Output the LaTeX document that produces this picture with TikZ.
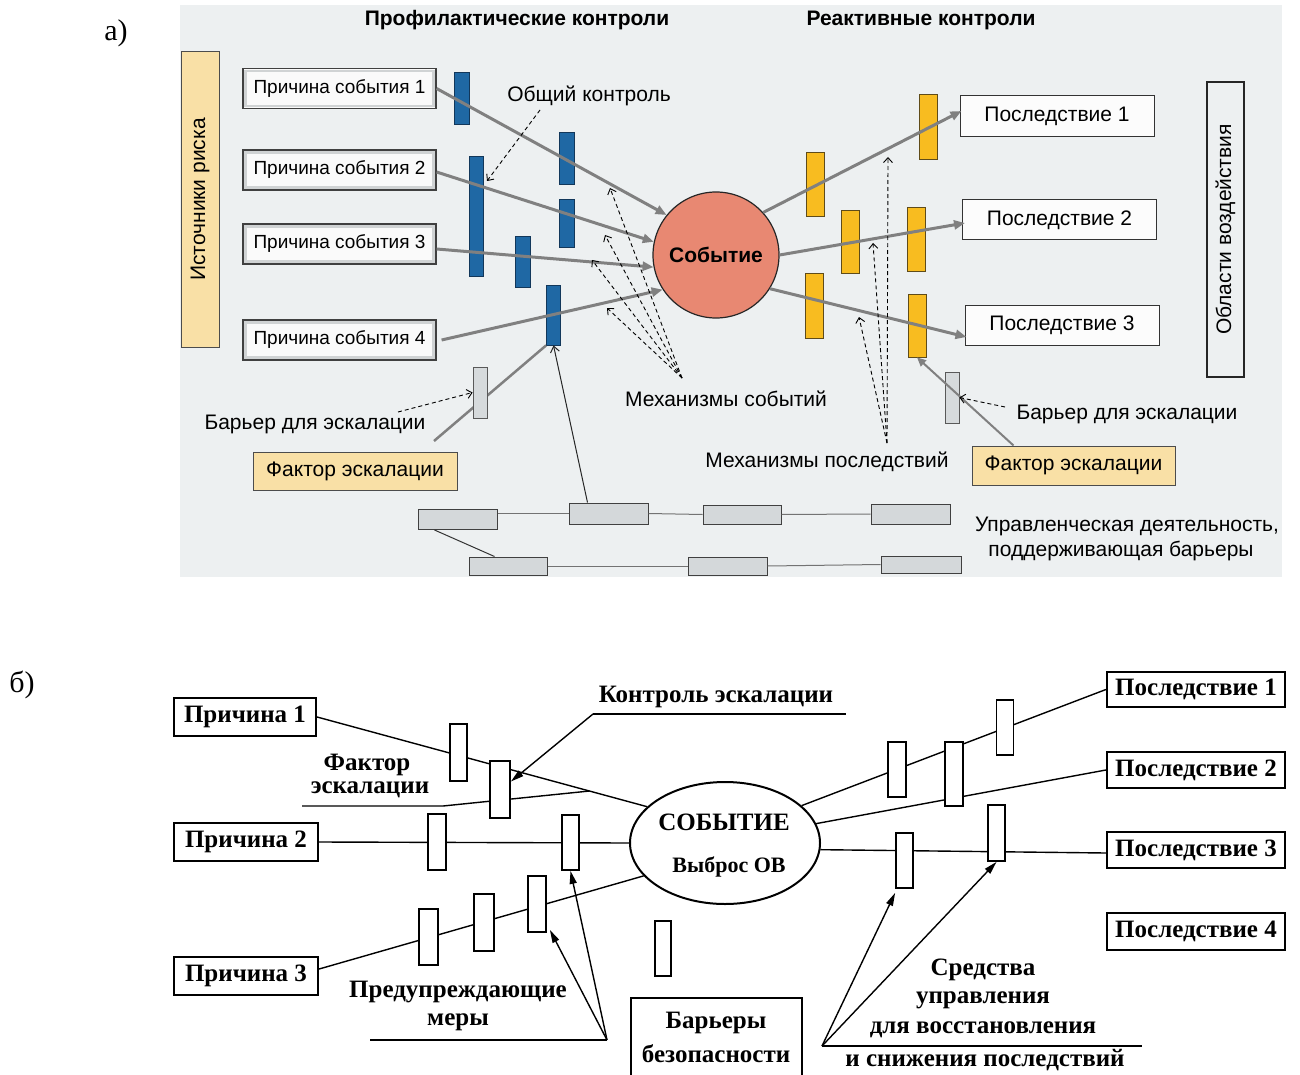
\documentclass[tikz,border=0pt]{standalone}
\usepackage{fontspec}
\setmainfont{Liberation Serif}
\setsansfont{Liberation Sans}
\usetikzlibrary{arrows.meta,calc,shapes.geometric}

\definecolor{panelbg}{RGB}{237,240,241}
\definecolor{barblue}{RGB}{31,104,164}
\definecolor{barblueedge}{RGB}{18,55,90}
\definecolor{baryellow}{RGB}{248,188,32}
\definecolor{baryellowedge}{RGB}{95,75,25}
\definecolor{eventfill}{RGB}{232,136,114}
\definecolor{beige}{RGB}{249,224,166}
\definecolor{linkgray}{RGB}{128,128,128}
\definecolor{mgmtgray}{RGB}{212,216,218}
\definecolor{barriergray}{RGB}{214,218,220}
\definecolor{bandgray}{RGB}{208,211,212}

\newcommand\fsz[1]{\fontsize{#1}{#1}\selectfont}

\begin{document}
\begin{tikzpicture}[x=1pt,y=-1pt,
  sa/.style={font=\sffamily\fsz{#1}},
  sab/.style={font=\sffamily\bfseries\fsz{#1}},
  rb/.style={font=\rmfamily\bfseries\fsz{#1}},
  cause/.style={draw=black!75, fill=white!96!gray, line width=1.2pt, inner sep=0pt,
    minimum width=193pt, minimum height=40pt, sa=19,
    path picture={\draw[bandgray, line width=2.5pt]
      ($(path picture bounding box.south west)+(2.5,-2.5)$) rectangle
      ($(path picture bounding box.north east)+(-2.5,2.5)$);}},
  conseq/.style={draw=black!80, fill=white!98!gray, line width=1pt, inner sep=0pt,
    minimum width=194pt, minimum height=41pt, sa=21},
  bluebar/.style={draw=barblueedge, fill=barblue, line width=0.8pt, inner sep=0pt,
    minimum width=15pt, minimum height=#1},
  ybar/.style={draw=baryellowedge, fill=baryellow, line width=0.8pt, inner sep=0pt,
    minimum width=18pt, minimum height=#1},
  gbar/.style={draw=black!65, fill=barriergray, line width=0.8pt, inner sep=0pt,
    minimum width=14pt, minimum height=51pt},
  mgmt/.style={draw=black!75, fill=mgmtgray, line width=1pt, inner sep=0pt,
    minimum width=79pt, minimum height=#1},
  link/.style={draw=linkgray, line width=3pt, -{Triangle[length=11pt,width=9pt]}},
  esc/.style={draw=linkgray, line width=2.5pt},
  mech/.style={draw=black, dash pattern=on 4pt off 3pt, line width=0.9pt,
    -{Straight Barb[length=5pt,width=9pt]}},
  thinlink/.style={draw=black!55, line width=1pt},
  bbox/.style={draw=black, line width=2.2pt, inner sep=0pt, rb=25},
  wbar/.style={draw=black, fill=white, line width=1.8pt, inner sep=0pt,
    minimum width=17pt, minimum height=#1},
  bline/.style={draw=black, line width=1.4pt},
  barrow/.style={bline, -{Triangle[length=13pt,width=7pt]}}
]
\useasboundingbox (0,0) rectangle (1300,1075);

% ---------------- part a ----------------
\fill[panelbg] (180,5) rectangle (1282,577);
\node[font=\rmfamily\fsz{30}] (la) at (116,33) {а)};

\node[sab=21] (tprev) at (517,20) {Профилактические контроли};
\node[sab=21] (treact) at (921,20) {Реактивные контроли};

\node[draw=black!70, fill=beige, line width=1pt, inner sep=0pt, minimum width=295pt,
  minimum height=38pt, rotate=90, sa=21] (src) at (200,199.5) {Источники риска};
\node[draw=black!85, line width=1.2pt, inner sep=0pt, minimum width=295pt,
  minimum height=37pt, rotate=90, sa=21] (areas) at (1225.5,229.5) {Области воздействия};

\node[cause] (c1) at (339.5,88.5) {Причина события 1};
\node[cause] (c2) at (339.5,170) {Причина события 2};
\node[cause] (c3) at (339.5,244) {Причина события 3};
\node[cause] (c4) at (339.5,340) {Причина события 4};

\node[bluebar=52] (b1) at (461.5,98) {};
\node[bluebar=120, minimum width=14pt] (b2) at (476,216) {};
\node[bluebar=52] (b3) at (567,158) {};
\node[bluebar=48] (b4) at (567,223) {};
\node[bluebar=51] (b5) at (522.5,261.5) {};
\node[bluebar=60, minimum width=14pt] (b6) at (553.5,315) {};

\node[circle, draw=black!85, fill=eventfill, line width=1.2pt, minimum size=126pt,
  inner sep=0pt, sab=21] (ev) at (716,255) {Событие};

\node[ybar=65] (y1) at (928,126.5) {};
\node[ybar=64] (y2) at (815.5,184) {};
\node[ybar=63] (y3) at (850.5,241.5) {};
\node[ybar=64] (y4) at (916,239) {};
\node[ybar=65] (y5) at (814.5,305.5) {};
\node[ybar=63] (y6) at (917,325.5) {};

\node[conseq] (p1) at (1057,116) {Последствие 1};
\node[conseq, minimum height=40pt] (p2) at (1059.5,220) {Последствие 2};
\node[conseq, minimum height=40pt] (p3) at (1062,325) {Последствие 3};

% causes to event, event to consequences
\draw[link] (c1.east) -- (ev.141);
\draw[link] ($(c2.east)+(0,2)$) -- (ev.168);
\draw[link] ($(c3.east)+(0,5)$) -- (ev.191);
\draw[link] ($(c4.east)+(5,0)$) -- (ev.213);
\draw[link] (ev.42) -- ($(p1.west)+(2,-5)$);
\draw[link] (ev.0) -- ($(p2.west)+(3,3)$);
\draw[link] (ev.328) -- ($(p3.west)+(2,12)$);

% event mechanisms
\node[sa=21] (mev) at (726,399) {Механизмы событий};
\coordinate (mE) at (682,378);
\coordinate (mE1) at (610,188);
\coordinate (mE2) at (605,235);
\coordinate (mE3) at (592,260);
\coordinate (mE4) at (607,308);
\foreach \t in {mE1,mE2,mE3,mE4} \draw[mech] (mE) -- (\t);

% consequence mechanisms
\node[sa=21] (mcq) at (827,462) {Механизмы последствий};
\coordinate (mC) at (887,443);
\coordinate (mC1) at (888,157);
\coordinate (mC2) at (873,243);
\coordinate (mC3) at (859,317);
\foreach \t in {mC1,mC2,mC3} \draw[mech] (mC) -- (\t);

% common control
\node[sa=21] (gc) at (589,96) {Общий контроль};
\coordinate (gcs) at (540,110);
\coordinate (gct) at (487,181);
\draw[mech] (gcs) -- (gct);

% escalation, left
\node[draw=black!70, fill=beige, line width=1pt, inner sep=0pt, minimum width=204pt,
  minimum height=38pt, sa=21] (fe1) at (355,471) {Фактор эскалации};
\node[gbar] (gb1) at (480,392.5) {};
\coordinate (fl) at (434,441);
\draw[esc] (fl) -- (b6.south west);
\node[gbar] at (480,392.5) {};
\node[sa=21] (bel) at (315,424) {Барьер для эскалации};
\coordinate (bels) at (398,412);
\draw[mech] (bels) -- (gb1.west);

% escalation, right
\node[draw=black!70, fill=beige, line width=1pt, inner sep=0pt, minimum width=203pt,
  minimum height=39pt, sa=21] (fe2) at (1073.5,465.5) {Фактор эскалации};
\node[gbar] (gb2) at (952,397.5) {};
\draw[esc, line width=2pt, -{Triangle[length=9pt,width=8pt]}] ($(fe2.north west)+(42,0)$) -- (y6.south);
\node[sa=21] (ber) at (1127,414) {Барьер для эскалации};
\coordinate (bers) at (1005,407);
\draw[mech] (bers) -- (gb2.east);

% management activities
\node[mgmt=20] (m1) at (457.5,519.5) {};
\node[mgmt=21] (m2) at (608.5,513.5) {};
\node[mgmt=19, minimum width=78pt] (m3) at (742,514.5) {};
\node[mgmt=20] (m4) at (910.5,514) {};
\node[mgmt=18, minimum width=78pt] (m5) at (508,566) {};
\node[mgmt=18] (m6) at (727.5,566) {};
\node[mgmt=17, minimum width=80pt] (m7) at (921,564.5) {};
\draw[thinlink] (m1.east |- m2.west) -- (m2.west);
\draw[thinlink] (m2.east) -- (m3.west);
\draw[thinlink] (m3.east) -- (m4.west);
\draw[thinlink] (m5.east) -- (m6.west);
\draw[thinlink] (m6.east) -- (m7.west);
\draw[draw=black!80, line width=1pt] ($(m1.south west)+(17,0)$) -- ($(m5.north west)+(26,0)$);
\draw[draw=black!85, line width=1pt, -{Straight Barb[length=6pt,width=9pt]}]
  ($(m2.north west)+(19,0)$) -- (b6.south);
\node[sa=21] (mg1) at (1127,526) {Управленческая деятельность,};
\node[sa=21] (mg2) at (1121,551) {поддерживающая барьеры};

% ---------------- part b ----------------
\node[font=\rmfamily\fsz{30}] (lb) at (22,685) {б)};

\node[bbox, minimum width=142pt, minimum height=38pt] (pr1) at (245,717) {Причина 1};
\node[bbox, minimum width=144pt, minimum height=38pt] (pr2) at (246,842) {Причина 2};
\node[bbox, minimum width=144pt, minimum height=38pt] (pr3) at (246,976) {Причина 3};

\node[ellipse, draw=black, line width=2pt, minimum width=190pt, minimum height=122pt,
  inner sep=0pt] (ev2) at (725,843) {};
\node[rb=25] (ev2a) at (724,822) {СОБЫТИЕ};
\node[rb=22] (ev2b) at (729,867) {Выброс ОВ};

\node[bbox, minimum width=178pt, minimum height=35pt] (pc1) at (1196,689.5) {Последствие 1};
\node[bbox, minimum width=178pt, minimum height=36pt] (pc2) at (1196,770) {Последствие 2};
\node[bbox, minimum width=178pt, minimum height=36pt] (pc3) at (1196,850) {Последствие 3};
\node[bbox, minimum width=178pt, minimum height=37pt] (pc4) at (1196,931.5) {Последствие 4};

% pathways
\draw[bline] (pr1.east) -- (ev2.155);
\draw[bline] (pr2.east) -- (ev2.180);
\draw[bline] ($(pr3.east)+(0,-7)$) -- (ev2.202);
\draw[bline] (ev2.26) -- (pc1.west);
\draw[bline] (ev2.12) -- (pc2.west);
\draw[bline] (ev2.356) -- ($(pc3.west)+(0,3)$);

% escalation factor
\node[rb=25] (fk1) at (367,765) {Фактор};
\node[rb=25] (fk2) at (370,790) {эскалации};
\coordinate (fku) at (302,806);
\coordinate (jn) at ($(pr1.east)!0.825!(ev2.155)$);
\draw[bline] (fku) -- (443,806) -- (jn);

% barriers
\node[wbar=57] (B1) at (458.5,752.5) {};
\node[wbar=57, minimum width=20pt] (B2) at (500,789.5) {};
\node[wbar=56, minimum width=18pt] (B3) at (437,842) {};
\node[wbar=55] (B4) at (570.5,842.5) {};
\node[wbar=56, minimum width=18pt] (B5) at (537,904) {};
\node[wbar=57, minimum width=20pt] (B6) at (484,922.5) {};
\node[wbar=56, minimum width=19pt] (B7) at (428.5,937) {};
\node[wbar=55, minimum width=18pt] (R1) at (897,769.5) {};
\node[wbar=64, minimum width=18pt] (R2) at (954,774) {};
\node[wbar=55] (R3) at (1005,727.5) {};
\node[wbar=56] (R4) at (996.5,833) {};
\node[wbar=55] (R5) at (904.5,860.5) {};
\node[wbar=55, minimum width=16pt] (R6) at (663,948.5) {};

% escalation control
\node[rb=25] (ke) at (716,697) {Контроль эскалации};
\coordinate (keu) at (593,714);
\draw[bline] (keu) -- (846,714);
\draw[barrow] (keu) -- ($(B2.east)+(0,-8)$);

% preventive measures
\node[rb=25] (pm1) at (458,992) {Предупреждающие};
\node[rb=25] (pm2) at (458,1022) {меры};
\coordinate (pmu) at (607,1040);
\draw[bline] (370,1040) -- (pmu);
\draw[barrow] (pmu) -- (B4.south);
\draw[barrow] (pmu) -- ($(B5.south east)+(3,-3)$);

% recovery measures
\node[rb=25] (rc1) at (983,970) {Средства};
\node[rb=25] (rc2) at (983,1000) {управления};
\node[rb=25] (rc3) at (983,1030) {для восстановления};
\node[rb=25] (rc4) at (985,1060) {и снижения последствий};
\coordinate (rcu) at (822,1046);
\draw[bline] (rcu) -- (1142,1046);
\draw[barrow] (rcu) -- ($(R5.south west)+(0,4)$);
\draw[barrow] (rcu) -- (R4.south);

% safety barriers box
\node[rb=25] (sb1) at (716,1023) {Барьеры};
\node[rb=25] (sb2) at (716,1054) {безопасности};
\draw[line width=2.2pt] (631,1075) -- (631,998) -- (802,998) -- (802,1075);
\end{tikzpicture}
\end{document}
